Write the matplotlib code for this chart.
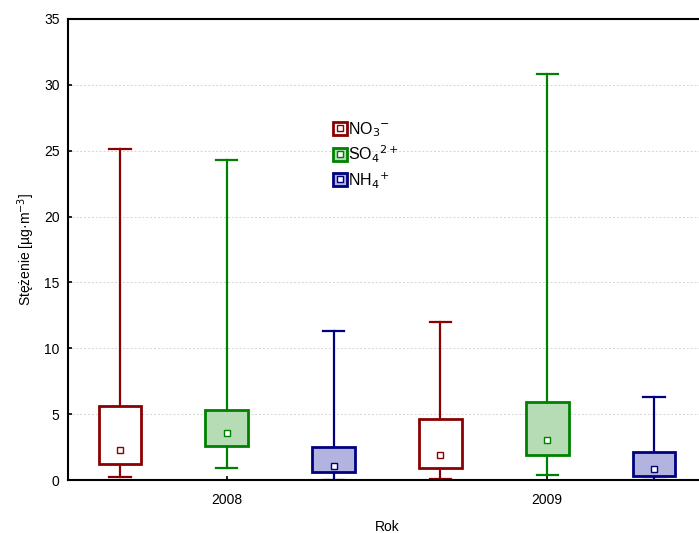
import numpy as np
import matplotlib.pyplot as plt
from matplotlib.patches import Patch
from matplotlib.lines import Line2D

plt.rcParams['font.family'] = ['Liberation Sans', 'DejaVu Sans']

# data: order NO3 2008, SO4 2008, NH4 2008, NO3 2009, SO4 2009, NH4 2009
years = ['2008', '2009']
ions = ['NO$_3$$^{-}$', 'SO$_4$$^{2+}$', 'NH$_4$$^{+}$']
w_max = [25.1, 24.3, 11.3, 12.0, 30.8, 6.3]
q3 = [5.6, 5.3, 2.5, 4.6, 5.9, 2.1]
q1 = [1.2, 2.6, 0.6, 0.9, 1.9, 0.3]
w_min = [0.2, 0.9, 0.0, 0.1, 0.4, 0.0]
mid = [2.3, 3.6, 1.1, 1.9, 3.0, 0.85]

edge_cols = ['#8b0000', '#008000', '#000080']
fill_cols = ['white', '#b5dcb5', '#b3b3e0']

fig = plt.figure(figsize=(6.99, 5.33), dpi=100)
ax = fig.add_axes([68 / 699, 53 / 533, 638 / 699, 461 / 533])

pos = np.arange(len(mid))
for i in range(len(mid)):
    c = edge_cols[i % 3]
    st = [{'whislo': w_min[i], 'q1': q1[i], 'med': mid[i], 'q3': q3[i], 'whishi': w_max[i]}]
    b = ax.bxp(st, positions=[pos[i]], widths=0.4, patch_artist=True, showfliers=False,
               boxprops=dict(facecolor=fill_cols[i % 3], edgecolor=c, linewidth=2),
               whiskerprops=dict(color=c, linewidth=1.6),
               capprops=dict(color=c, linewidth=1.6),
               medianprops=dict(linewidth=0), capwidths=0.2, manage_ticks=False)
    b['boxes'][0].set_zorder(3)
    for w in b['whiskers'] + b['caps']:
        w.set_zorder(2)
    ax.plot(pos[i], mid[i], 's', ms=5, mfc='white', mec=c, mew=1, zorder=4)

ax.set_xlim(-0.486, 5.486)
ax.set_ylim(0, 35)
ax.set_yticks(np.arange(0, 36, 5))
ax.set_xticks([1, 4])
ax.set_xticklabels(years)
ax.tick_params(direction='in', labelsize=10, length=3, width=1.2)
ax.tick_params(axis='y', pad=6)
ax.tick_params(axis='x', pad=9)
ax.yaxis.grid(True, linestyle=(0, (2, 2)), color='#d4d4d4', linewidth=0.7)
ax.set_axisbelow(True)
for s in ['left', 'bottom', 'top']:
    ax.spines[s].set_linewidth(1.5)
ax.spines['right'].set_visible(False)

ax.set_ylabel('Stężenie [µg·m$^{-3}$]', fontsize=10, labelpad=5)
ax.set_xlabel('Rok', fontsize=10, labelpad=10)

handles = []
for k in range(3):
    handles.append((Patch(facecolor=fill_cols[k], edgecolor=edge_cols[k], linewidth=2),
                    Line2D([], [], marker='s', ls='none', ms=5, mfc='white', mec=edge_cols[k])))
ax.legend(handles, ions, loc='upper left', bbox_to_anchor=(333 / 699, 1 - 120 / 533),
          bbox_transform=fig.transFigure, frameon=False, fontsize=11.5,
          handlelength=0.85, handleheight=0.85, handletextpad=0.1, labelspacing=0.3,
          borderpad=0, borderaxespad=0)

fig.savefig('out.png', dpi=100)
